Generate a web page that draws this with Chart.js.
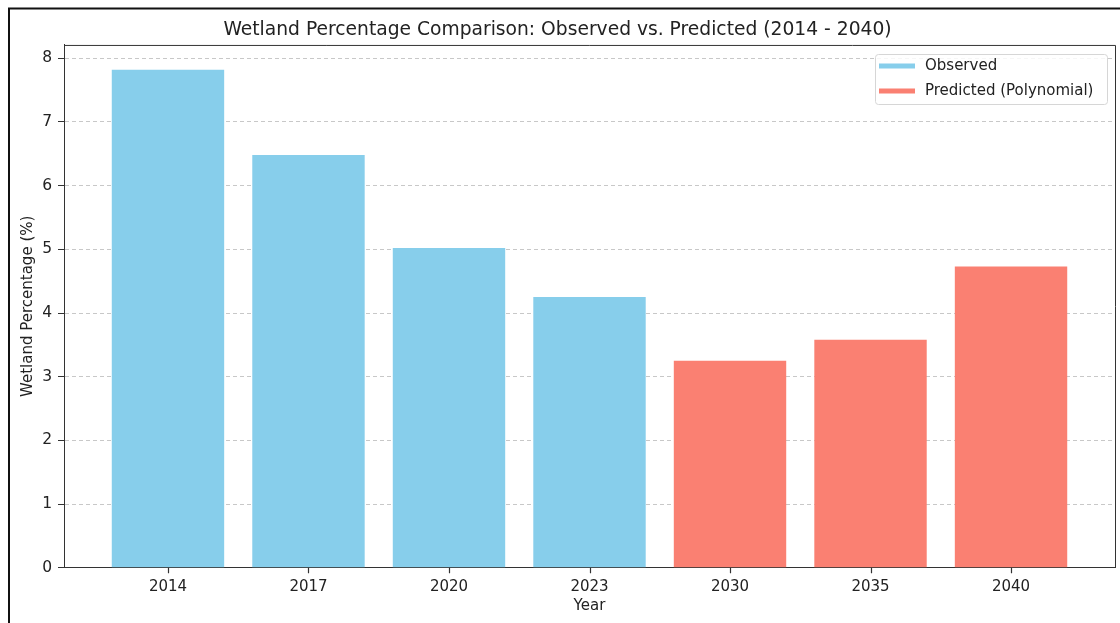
<!DOCTYPE html>
<html>
<head>
<meta charset="utf-8">
<script src="https://cdn.jsdelivr.net/npm/chart.js@4.4.1/dist/chart.umd.min.js"></script>
<style>
  html, body { margin: 0; padding: 0; background: #fff; }
  #chart { display: block; }
</style>
</head>
<body>
<canvas id="chart" width="1120" height="623"></canvas>
<script>
// values
const years = ['2014', '2017', '2020', '2023', '2030', '2035', '2040'];
const observed = [7.82, 6.48, 5.02, 4.25, null, null, null];
const predicted = [null, null, null, null, 3.25, 3.58, 4.73];
const yTicks = [0, 1, 2, 3, 4, 5, 6, 7, 8];
const xTicks = [0, 1, 2, 3, 4, 5, 6];

const FONT = "'DejaVu Sans', sans-serif";
const TEXT = '#222';

function toPoints(arr) {
    const out = [];
    arr.forEach((v, i) => { if (v !== null) out.push({ x: i, y: v }); });
    return out;
}

// frame round the figure, top and right spines, x tick marks, legend box
const extras = {
    id: 'extras',
    afterDraw(chart) {
        const ctx = chart.ctx;
        const a = chart.chartArea;
        const xs = chart.scales.x;
        ctx.save();
        // spines (top + right)
        ctx.strokeStyle = '#333';
        ctx.lineWidth = 1;
        ctx.beginPath();
        ctx.moveTo(a.left, a.top + 0.5);
        ctx.lineTo(a.right + 0.5, a.top + 0.5);
        ctx.lineTo(a.right + 0.5, a.bottom);
        ctx.stroke();

        // x tick marks under each bar
        ctx.strokeStyle = '#333';
        ctx.lineWidth = 1.2;
        ctx.beginPath();
        xTicks.forEach(v => {
            const px = Math.round(xs.getPixelForValue(v)) + 0.5;
            ctx.moveTo(px, a.bottom);
            ctx.lineTo(px, a.bottom + 5.5);
        });
        ctx.stroke();

        // outer frame (left + top only, rest is cut off)
        ctx.strokeStyle = '#111';
        ctx.lineWidth = 2;
        ctx.beginPath();
        ctx.moveTo(9, chart.height);
        ctx.lineTo(9, 8.5);
        ctx.lineTo(chart.width, 8.5);
        ctx.stroke();

        // legend
        const bx = 875, by = 54, bw = 232, bh = 50, r = 3;
        ctx.fillStyle = 'rgba(255,255,255,0.85)';
        ctx.strokeStyle = '#d6d6d6';
        ctx.lineWidth = 1;
        ctx.beginPath();
        ctx.roundRect(bx + 0.5, by + 0.5, bw, bh, r);
        ctx.fill();
        ctx.stroke();
        ctx.font = '15px ' + FONT;
        ctx.textBaseline = 'middle';
        ctx.textAlign = 'left';
        chart.data.datasets.forEach((ds, i) => {
            const cy = by + 12 + i * 25;
            ctx.strokeStyle = ds.backgroundColor;
            ctx.lineWidth = 5;
            ctx.beginPath();
            ctx.moveTo(879, cy);
            ctx.lineTo(915, cy);
            ctx.stroke();
            ctx.fillStyle = TEXT;
            ctx.fillText(ds.label, 925, cy);
        });
        ctx.restore();
    }
};

new Chart(document.getElementById('chart'), {
    type: 'bar',
    data: {
        datasets: [
            { label: 'Observed', data: toPoints(observed), backgroundColor: '#87CEEB' },
            { label: 'Predicted (Polynomial)', data: toPoints(predicted), backgroundColor: '#FA8072' }
        ]
    },
    options: {
        responsive: false,
        animation: false,
        grouped: false,
        barPercentage: 0.8,
        categoryPercentage: 1.0,
        layout: { padding: { left: 0, right: 5, top: 0, bottom: 0 } },
        plugins: {
            legend: { display: false },
            tooltip: { enabled: false },
            title: {
                display: true,
                text: 'Wetland Percentage Comparison: Observed vs. Predicted (2014 - 2040)',
                color: TEXT,
                font: { family: FONT, size: 18.7, weight: 'normal' },
                padding: { top: 19, bottom: 3.5 }
            }
        },
        scales: {
            x: {
                type: 'linear',
                min: -0.74,
                max: 6.74,
                offset: false,
                afterBuildTicks: s => { s.ticks = xTicks.map(v => ({ value: v })); },
                afterFit: s => { s.height = 55.3; },
                ticks: {
                    color: TEXT,
                    font: { family: FONT, size: 15 },
                    padding: 5,
                    maxRotation: 0,
                    autoSkip: false,
                    callback: v => years[v]
                },
                grid: { display: false, tickLength: 5 },
                border: { color: '#333', width: 1 },
                title: {
                    display: true, text: 'Year', color: TEXT,
                    font: { family: FONT, size: 15 },
                    padding: { top: 0, bottom: 8 }
                }
            },
            y: {
                min: 0,
                max: 8.21,
                z: 1,
                afterBuildTicks: s => { s.ticks = yTicks.map(v => ({ value: v })); },
                afterFit: s => { s.width = 64; },
                ticks: {
                    color: TEXT,
                    font: { family: FONT, size: 15.5 },
                    padding: 6
                },
                grid: {
                    color: 'rgba(176,176,176,0.7)',
                    tickLength: 6,
                    tickColor: '#333',
                    tickBorderDash: []
                },
                border: { color: '#333', width: 1, dash: [4, 3] },
                title: {
                    display: true, text: 'Wetland Percentage (%)', color: TEXT,
                    font: { family: FONT, size: 15 },
                    padding: { top: 19, bottom: 0 }
                }
            }
        }
    },
    plugins: [extras]
});
</script>
</body>
</html>
